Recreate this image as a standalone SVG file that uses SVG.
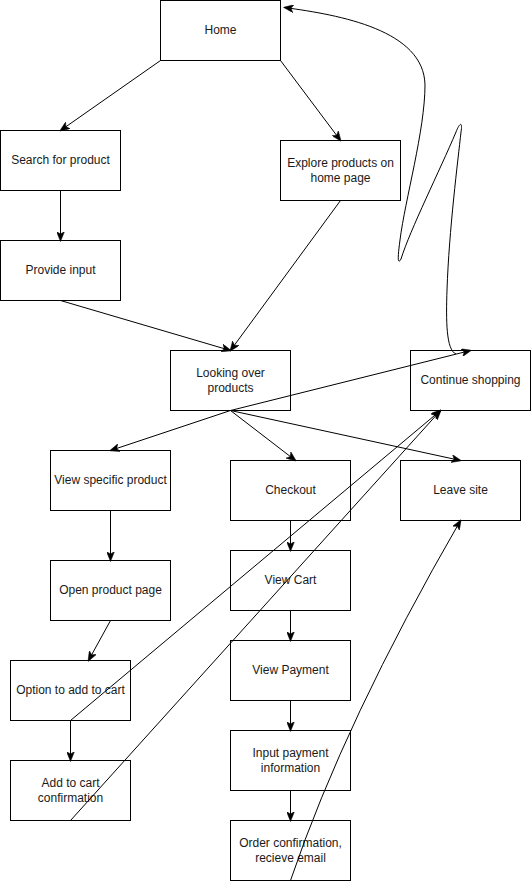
<svg xmlns="http://www.w3.org/2000/svg" width="531" height="889" viewBox="0 0 531 889">
<style>
.n rect{fill:#fff;stroke:#000;stroke-width:1}
.n text{font-family:"Liberation Sans",Arial,sans-serif;font-size:12px;fill:#1a1a1a;text-anchor:middle}
.e path{fill:none;stroke:#000;stroke-width:1;marker-end:url(#a)}
</style>
<defs>
<marker id="a" viewBox="0 0 10 8" refX="9" refY="4" markerWidth="10" markerHeight="8" markerUnits="userSpaceOnUse" orient="auto">
<path d="M0,0 L10,4 L0,8 L2.5,4 z" fill="#000" stroke="#000" stroke-width="0.5"/>
</marker>
</defs>
<rect width="531" height="889" fill="#fff"/>
<g id="nodes">
<g class="n" id="home"><rect x="160.5" y="0.5" width="120" height="60"/><text x="220.5" y="34">Home</text></g>
<g class="n" id="search"><rect x="0.5" y="130.5" width="120" height="60"/><text x="60.5" y="164">Search for product</text></g>
<g class="n" id="explore"><rect x="280.5" y="140.5" width="120" height="60"/><text x="340.5" y="167">Explore products on</text><text x="340.5" y="182">home page</text></g>
<g class="n" id="input"><rect x="0.5" y="240.5" width="120" height="60"/><text x="60.5" y="274">Provide input</text></g>
<g class="n" id="looking"><rect x="170.5" y="350.5" width="120" height="60"/><text x="230.5" y="377">Looking over</text><text x="230.5" y="392">products</text></g>
<g class="n" id="continue"><rect x="410.5" y="350.5" width="120" height="60"/><text x="470.5" y="384">Continue shopping</text></g>
<g class="n" id="viewspecific"><rect x="50.5" y="450.5" width="120" height="60"/><text x="110.5" y="484">View specific product</text></g>
<g class="n" id="checkout"><rect x="230.5" y="460.5" width="120" height="60"/><text x="290.5" y="494">Checkout</text></g>
<g class="n" id="leave"><rect x="400.5" y="460.5" width="120" height="60"/><text x="460.5" y="494">Leave site</text></g>
<g class="n" id="openpage"><rect x="50.5" y="560.5" width="120" height="60"/><text x="110.5" y="594">Open product page</text></g>
<g class="n" id="viewcart"><rect x="230.5" y="550.5" width="120" height="60"/><text x="290.5" y="584">View Cart</text></g>
<g class="n" id="option"><rect x="10.5" y="660.5" width="120" height="60"/><text x="70.5" y="694">Option to add to cart</text></g>
<g class="n" id="viewpayment"><rect x="230.5" y="640.5" width="120" height="60"/><text x="290.5" y="674">View Payment</text></g>
<g class="n" id="addconfirm"><rect x="10.5" y="760.5" width="120" height="60"/><text x="70.5" y="787">Add to cart</text><text x="70.5" y="802">confirmation</text></g>
<g class="n" id="inputpayment"><rect x="230.5" y="730.5" width="120" height="60"/><text x="290.5" y="757">Input payment</text><text x="290.5" y="772">information</text></g>
<g class="n" id="order"><rect x="230.5" y="820.5" width="120" height="60"/><text x="290.5" y="847">Order confirmation,</text><text x="290.5" y="862">recieve email</text></g>
</g>
<g class="e" id="connectors">
<path d="M160.5 60.5 L60.5 130.5"/>
<path d="M280.5 60.5 L340.5 140.5"/>
<path d="M60.5 190.5 L60.5 240.5"/>
<path d="M60.5 300.5 L230.5 350.5"/>
<path d="M340.5 200.5 L230.5 350.5"/>
<path d="M230.5 410.5 L110.5 450.5"/>
<path d="M230.5 410.5 L295.5 460.5"/>
<path d="M230.5 410.5 L460.5 460.5"/>
<path d="M230.5 410.5 L470.5 350.5"/>
<path d="M110.5 510.5 L110.5 560.5"/>
<path d="M110.5 620.5 L88.5 660.5"/>
<path d="M70.5 720.5 L70.5 760.5"/>
<path d="M290.5 520.5 L290.5 550.5"/>
<path d="M290.5 610.5 L290.5 640.5"/>
<path d="M290.5 700.5 L290.5 730.5"/>
<path d="M290.5 790.5 L290.5 820.5"/>
<path d="M70.5 720.5 L440.5 410.5"/>
<path d="M70.5 820.5 L440.5 410.5"/>
<path d="M290.5 880.5 Q345 720 460.5 520.5"/>
<path d="M456 354 C446 350 446 320 447 290 C449 230 458 160 461 132 C463 120 459 124 456 132 C440 170 410 230 401 259 C397 266 398 255 400 240 C405 200 425 130 425 85 C424 30 340 15 284.5 7.5"/>
</g>
</svg>
